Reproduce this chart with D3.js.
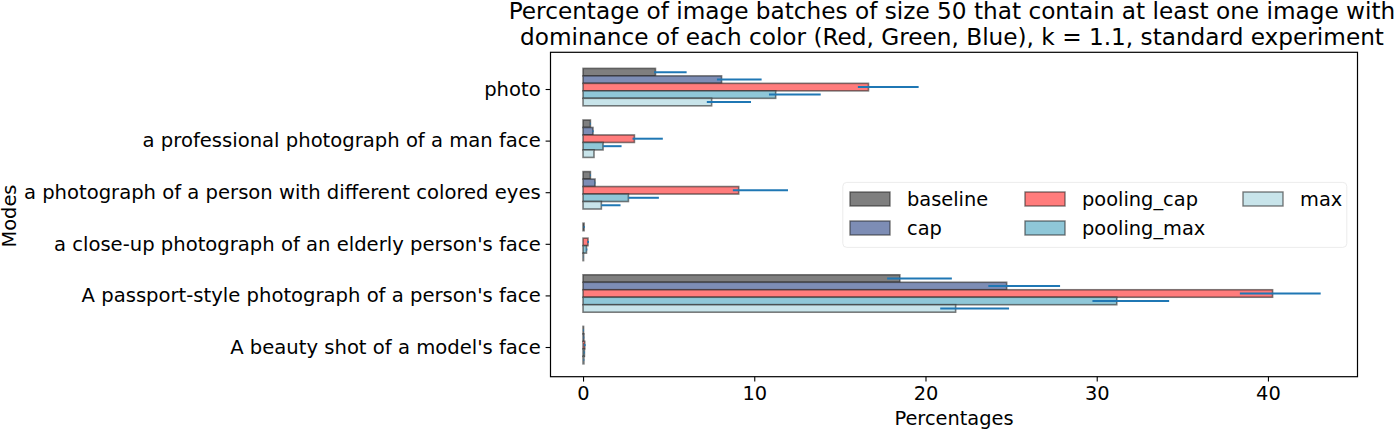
<!DOCTYPE html>
<html>
<head>
<meta charset="utf-8">
<script src="https://cdn.jsdelivr.net/npm/d3@7/dist/d3.min.js"></script>
<style>
  html, body { margin: 0; padding: 0; background: #fff; }
  svg { display: block; font-family: "DejaVu Sans", sans-serif; }
</style>
</head>
<body>
<svg id="chart" width="1399" height="430"></svg>
<script>
// ---- data ----
const categories = [
  "photo",
  "a professional photograph of a man face",
  "a photograph of a person with different colored eyes",
  "a close-up photograph of an elderly person's face",
  "A passport-style photograph of a person's face",
  "A beauty shot of a model's face"
];
const seriesNames = ["baseline", "cap", "pooling_cap", "pooling_max", "max"];

const baseline    = [4.23, 0.43, 0.43, 0.06, 18.50, 0.03];
const cap         = [8.09, 0.58, 0.70, 0.00, 24.74, 0.05];
const pooling_cap = [16.67, 3.00, 9.09, 0.29, 40.27, 0.10];
const pooling_max = [11.25, 1.17, 2.65, 0.20, 31.17, 0.08];
const max         = [7.51, 0.64, 1.07, 0.03, 21.76, 0.05];

// error bar lower / upper ends
const baselineLo    = [4.15, 0.40, 0.40, 0.03, 17.76, 0.00];
const baselineHi    = [6.05, 0.45, 0.45, 0.10, 21.54, 0.05];
const capLo         = [7.82, 0.55, 0.68, 0.00, 23.67, 0.03];
const capHi         = [10.43, 0.62, 0.72, 0.00, 27.86, 0.07];
const pooling_capLo = [16.05, 2.89, 8.75, 0.25, 38.36, 0.05];
const pooling_capHi = [19.60, 4.66, 11.97, 0.35, 43.08, 0.15];
const pooling_maxLo = [10.86, 1.17, 2.65, 0.18, 29.75, 0.05];
const pooling_maxHi = [13.88, 2.25, 4.43, 0.25, 34.23, 0.10];
const maxLo         = [7.23, 0.64, 1.07, 0.03, 20.86, 0.03];
const maxHi         = [9.81, 0.64, 2.19, 0.05, 24.88, 0.07];

const xTicks = [0, 10, 20, 30, 40];
const titleLines = [
  "Percentage of image batches of size 50 that contain at least one image with",
  "dominance of each color (Red, Green, Blue), k = 1.1, standard experiment"
];
const xLabel = "Percentages";
const yLabel = "Modes";

const seriesValues = [baseline, cap, pooling_cap, pooling_max, max];
const seriesLo = [baselineLo, capLo, pooling_capLo, pooling_maxLo, maxLo];
const seriesHi = [baselineHi, capHi, pooling_capHi, pooling_maxHi, maxHi];
const colors = ["#7f7f7f", "#7d8db5", "#ff7c7c", "#8fc7d8", "#c8e4ea"];

// ---- layout ----
const svg = d3.select("#chart");
const L = 550.5, R = 1357.5, T = 52.3, B = 376.7;
const FS = 19.4;
const YFS = 19.6;

const x = d3.scaleLinear().domain([-1.9, 45.23]).range([L, R]);
const y = d3.scaleLinear().domain([-0.6744, 5.6124]).range([T, B]);
const barW = 0.145;
const tickOff = 0.037;

const g = svg.append("g");

// bars
seriesNames.forEach((name, k) => {
  const vals = seriesValues[k];
  g.selectAll(null).data(vals).enter().append("rect")
    .attr("x", x(0))
    .attr("y", (d, i) => y(i + (k - 2) * barW - barW / 2))
    .attr("width", d => Math.max(0, x(d) - x(0)))
    .attr("height", y(barW) - y(0))
    .attr("fill", colors[k])
    .attr("stroke", "rgba(40,40,40,0.6)")
    .attr("stroke-width", 1.6);
});

// error bars
seriesNames.forEach((name, k) => {
  const lo = seriesLo[k], hi = seriesHi[k];
  g.selectAll(null).data(lo).enter().append("line")
    .attr("x1", (d, i) => x(lo[i]))
    .attr("x2", (d, i) => x(hi[i]))
    .attr("y1", (d, i) => y(i + (k - 2) * barW))
    .attr("y2", (d, i) => y(i + (k - 2) * barW))
    .attr("stroke", "#1f77b4")
    .attr("stroke-width", 2);
});

// frame
svg.append("rect").attr("x", L).attr("y", T).attr("width", R - L).attr("height", B - T)
  .attr("fill", "none").attr("stroke", "#000").attr("stroke-width", 1.2);

// x axis
const xAxis = d3.axisBottom(x).tickValues(xTicks).tickSize(4.9).tickPadding(4.2).tickFormat(d3.format("d"));
const xg = svg.append("g").attr("transform", `translate(0,${B})`).call(xAxis);
xg.select(".domain").remove();
xg.selectAll("text").attr("font-size", FS).attr("font-family", "DejaVu Sans").attr("fill", "#000");
xg.selectAll("line").attr("stroke", "#000").attr("stroke-width", 1.1);

// y axis
const yAxis = d3.axisLeft(y).tickValues(categories.map((c, i) => i + tickOff))
  .tickFormat((d, i) => categories[i]).tickSize(4.9).tickPadding(4.9);
const yg = svg.append("g").attr("transform", `translate(${L},0)`).call(yAxis);
yg.select(".domain").remove();
yg.selectAll("text").attr("font-size", YFS).attr("font-family", "DejaVu Sans").attr("fill", "#000");
yg.selectAll("line").attr("stroke", "#000").attr("stroke-width", 1.1);

// labels
svg.append("text").attr("x", (L + R) / 2).attr("y", 425).attr("text-anchor", "middle")
  .attr("font-size", FS).text(xLabel);
svg.append("text").attr("transform", `translate(15.5,216) rotate(-90)`)
  .attr("text-anchor", "middle").attr("font-size", FS).text(yLabel);

// title
const titleY = [18.5, 45];
titleLines.forEach((t, i) => {
  svg.append("text").attr("x", (L + R) / 2 - 2).attr("y", titleY[i]).attr("text-anchor", "middle")
    .attr("font-size", 23.2).text(t);
});

// legend
const lg = svg.append("g");
lg.append("rect").attr("x", 842.8).attr("y", 182.4).attr("width", 504).attr("height", 65)
  .attr("rx", 4).attr("fill", "rgba(255,255,255,0.8)").attr("stroke", "#ececec").attr("stroke-width", 1);
const colX = [850, 1025, 1243];
const rowY = [192, 221];
seriesNames.forEach((name, k) => {
  const c = Math.floor(k / 2), r = k % 2;
  lg.append("rect").attr("x", colX[c]).attr("y", rowY[r]).attr("width", 40).attr("height", 14)
    .attr("fill", colors[k]).attr("stroke", "rgba(40,40,40,0.6)").attr("stroke-width", 1.4);
  lg.append("text").attr("x", colX[c] + 57).attr("y", rowY[r] + 7).attr("dy", "0.35em")
    .attr("font-size", FS).text(name);
});
</script>
</body>
</html>
